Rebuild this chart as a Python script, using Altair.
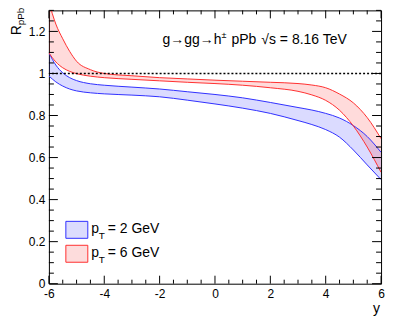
import altair as alt
import pandas as pd
import numpy as np

FONT = "Liberation Sans"

# rapidity grid
rapidity = [-6, -5.75, -5.5, -5.25, -5, -4.5, -4, -3, -2, -1, 0, 1, 2, 3, 3.5, 4, 4.5, 5, 5.5, 6]
# pT = 2 GeV band
blue_hi = [1.098, 1.040, 1.003, 0.980, 0.966, 0.951, 0.944, 0.935, 0.926, 0.913, 0.900, 0.884, 0.862, 0.838, 0.826, 0.810, 0.788, 0.752, 0.700, 0.625]
blue_lo = [0.988, 0.960, 0.940, 0.926, 0.917, 0.908, 0.903, 0.897, 0.889, 0.873, 0.855, 0.835, 0.810, 0.776, 0.757, 0.733, 0.697, 0.636, 0.565, 0.495]
# pT = 6 GeV band
red_hi = [1.340, 1.235, 1.165, 1.105, 1.058, 1.018, 1.000, 0.989, 0.980, 0.974, 0.968, 0.963, 0.958, 0.952, 0.945, 0.932, 0.902, 0.860, 0.790, 0.690]
red_lo = [1.098, 1.055, 1.027, 1.010, 0.999, 0.987, 0.980, 0.972, 0.965, 0.958, 0.952, 0.944, 0.932, 0.915, 0.898, 0.872, 0.825, 0.750, 0.650, 0.530]

x_major = [-6, -4, -2, 0, 2, 4, 6]
x_minor = [v for v in np.arange(-6, 6.01, 0.5).round(2).tolist() if v not in x_major]
y_major = [0, 0.2, 0.4, 0.6, 0.8, 1.0, 1.2]
y_minor = [v for v in np.arange(0, 1.301, 0.05).round(2).tolist() if round(v / 0.2, 6) != round(v / 0.2)]
ref_line = [1.0]

W, H = 333, 274
xs = alt.Scale(domain=[-6, 6], nice=False, zero=False)
ys = alt.Scale(domain=[0, 1.3], nice=False, zero=False)

df = pd.DataFrame({"rap": rapidity, "blo": blue_lo, "bhi": blue_hi, "rlo": red_lo, "rhi": red_hi})
base = alt.Chart(df)

xaxis = alt.Axis(values=x_major, ticks=False, domain=False, grid=False, labelPadding=5,
                 labelFlush=False, labelOverlap=False, labelFontSize=12, labelFont=FONT,
                 labelColor="#000", title=None, labelExpr="'' + datum.value")
yaxis = alt.Axis(values=y_major, ticks=False, domain=False, grid=False, labelPadding=4,
                 labelFlush=False, labelOverlap=False, labelFontSize=12, labelFont=FONT,
                 labelColor="#000", title=None, format="~g")

def X(f):
    return alt.X(f, scale=xs, axis=xaxis)

def Y(f):
    return alt.Y(f, scale=ys, axis=yaxis)

BLUE = "#3030ff"
RED = "#ff3030"

blue_area = base.mark_area(color="#0000ff", opacity=0.14, interpolate="monotone", clip=True).encode(
    x=X("rap:Q"), y=Y("blo:Q"), y2="bhi:Q")
red_area = base.mark_area(color="#ff0000", opacity=0.14, interpolate="monotone", clip=True).encode(
    x=X("rap:Q"), y=Y("rlo:Q"), y2="rhi:Q")

def line(col, color):
    return base.mark_line(color=color, strokeWidth=1, interpolate="monotone", clip=True).encode(
        x=X("rap:Q"), y=Y(f"{col}:Q"))

lines = [line("bhi", BLUE), line("blo", BLUE), line("rhi", RED), line("rlo", RED)]

dotted = alt.Chart(pd.DataFrame({"v": ref_line})).mark_rule(
    color="black", strokeWidth=1.5, strokeDash=[2, 2]).encode(y=Y("v:Q"))

def xticks(vals, length):
    d = alt.Chart(pd.DataFrame({"t": vals}))
    bot = d.mark_rule(color="black", strokeWidth=1).encode(
        x=X("t:Q"), y=alt.value(H), y2=alt.value(H - length))
    top = d.mark_rule(color="black", strokeWidth=1).encode(
        x=X("t:Q"), y=alt.value(0), y2=alt.value(length))
    return [bot, top]

def yticks(vals, length):
    d = alt.Chart(pd.DataFrame({"t": vals}))
    left = d.mark_rule(color="black", strokeWidth=1).encode(
        y=Y("t:Q"), x=alt.value(0), x2=alt.value(length))
    right = d.mark_rule(color="black", strokeWidth=1).encode(
        y=Y("t:Q"), x=alt.value(W), x2=alt.value(W - length))
    return [left, right]

ticks = xticks(x_major, 8) + xticks(x_minor, 4) + yticks(y_major, 9) + yticks(y_minor, 5)

def txt(s, x, y, size=14, align="left", angle=0):
    return alt.Chart(pd.DataFrame({"s": [s]})).mark_text(
        font=FONT, fontSize=size, align=align, baseline="alphabetic", angle=angle, color="black").encode(
        text="s:N", x=alt.value(x), y=alt.value(y))

texts = [
    txt("g\u2192gg\u2192h", 114, 34),
    txt("\u00b1", 173, 28, size=9),
    txt("pPb", 183, 34),
    txt("\u221as = 8.16 TeV", 213, 34),
    txt("y", 332, 303, size=14, align="right"),
    txt("R", -28, 25, size=14, angle=270),
    txt("pPb", -24.5, 15, size=10, angle=270),
    # legend
    txt("p", 42.5, 223),
    txt("T", 50, 229, size=10),
    txt("= 2 GeV", 59, 223),
    txt("p", 42.5, 247),
    txt("T", 50, 253, size=10),
    txt("= 6 GeV", 59, 247),
]

def legbox(y0, fill, stroke):
    return alt.Chart(pd.DataFrame({"k": [0]})).mark_rect(
        fill=fill, stroke=stroke, strokeWidth=1).encode(
        x=alt.value(17), x2=alt.value(39), y=alt.value(y0), y2=alt.value(y0 + 17))

legend = [legbox(211.5, "#dcdcfd", BLUE), legbox(235.5, "#fddcdc", RED)]

chart = alt.layer(blue_area, red_area, *lines, dotted, *ticks, *legend, *texts).properties(
    width=W, height=H,
    padding={"left": 41, "top": 2, "right": 20, "bottom": 32},
    autosize=alt.AutoSizeParams(type="none"),
    background="white",
).configure_view(stroke="black", strokeWidth=1)

chart.save("out.html", embed_options={"renderer": "svg", "actions": False})
